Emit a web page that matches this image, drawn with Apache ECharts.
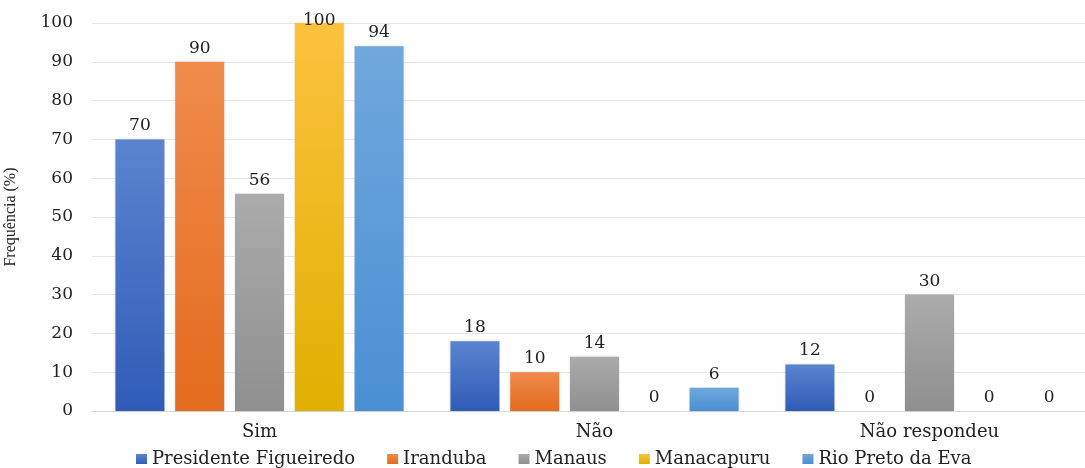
<!DOCTYPE html>
<html>
<head>
<meta charset="utf-8">
<script src="https://cdn.jsdelivr.net/npm/echarts@6/dist/echarts.min.js"></script>
<style>
    html, body { margin: 0; padding: 0; background: #fff; }
    #barChart { width: 1085px; height: 468px; }
</style>
</head>
<body>
<div id="barChart"></div>
<script>
var categories = ["Sim", "Não", "Não respondeu"];
var cityNames = ["Presidente Figueiredo", "Iranduba", "Manaus", "Manacapuru", "Rio Preto da Eva"];
var presidenteFigueiredo = [70, 18, 12];
var iranduba = [90, 10, 0];
var manaus = [56, 14, 30];
var manacapuru = [100, 0, 0];
var rioPretoDaEva = [94, 6, 0];
var yTicks = [0, 10, 20, 30, 40, 50, 60, 70, 80, 90, 100];

var seriesValues = [presidenteFigueiredo, iranduba, manaus, manacapuru, rioPretoDaEva];
// cores tipo Excel: [topo, base]
var colors = [
    ["#5b84cf", "#2f5cb7"],
    ["#f08b4c", "#e36b1d"],
    ["#ababab", "#8f8f8f"],
    ["#fcc23e", "#dfb000"],
    ["#70a8dc", "#4a8fd3"]
];
var serif = "DejaVu Serif";

var series = [];
for (var s = 0; s < seriesValues.length; s++) {
    var vals = [];
    for (var i = 0; i < seriesValues[s].length; i++) {
        var v = seriesValues[s][i];
        // rotulo do 100 fica colado no topo do grafico
        if (v == yTicks[yTicks.length - 1]) {
            vals.push({ value: v, label: { offset: [0, 11] } });
        } else {
            vals.push(v);
        }
    }
    series.push({
        name: cityNames[s],
        type: "bar",
        barWidth: 49,
        barGap: "22%",
        itemStyle: {
            color: new echarts.graphic.LinearGradient(0, 0, 0, 1, [
                { offset: 0, color: colors[s][0] },
                { offset: 1, color: colors[s][1] }
            ]),
            shadowColor: "rgba(0,0,0,0.15)",
            shadowBlur: 2
        },
        label: {
            show: true,
            position: "top",
            distance: 5,
            color: "#222",
            fontFamily: serif,
            fontSize: 17
        },
        data: vals
    });
}

var myChart = echarts.init(document.getElementById("barChart"));
var option = {
    animation: false,
    color: colors.map(function(c) { return c[1]; }),
    grid: {
        left: 92,
        top: 23,
        bottom: 57,
        width: 1005,
        containLabel: false,
        outerBoundsMode: "none"
    },
    legend: {
        left: 131,
        top: 445,
        itemWidth: 11,
        itemHeight: 10,
        itemGap: 32,
        icon: "rect",
        textStyle: {
            color: "#222",
            fontFamily: serif,
            fontSize: 18
        },
        data: cityNames
    },
    xAxis: {
        type: "category",
        data: categories,
        axisLine: { lineStyle: { color: "#d9d9d9" } },
        axisTick: { show: false },
        axisLabel: {
            color: "#222",
            fontFamily: serif,
            fontSize: 18,
            margin: 12
        }
    },
    yAxis: {
        type: "value",
        min: yTicks[0],
        max: yTicks[yTicks.length - 1],
        interval: yTicks[1] - yTicks[0],
        name: "Frequência (%)",
        nameLocation: "middle",
        nameGap: 73,
        nameTextStyle: {
            color: "#222",
            fontFamily: "Liberation Serif",
            fontSize: 16
        },
        axisLine: { show: false },
        axisTick: { show: false },
        splitLine: { lineStyle: { color: "#e6e6e6" } },
        axisLabel: {
            color: "#222",
            fontFamily: serif,
            fontSize: 17,
            margin: 19
        }
    },
    series: series
};
myChart.setOption(option, true);
</script>
</body>
</html>
